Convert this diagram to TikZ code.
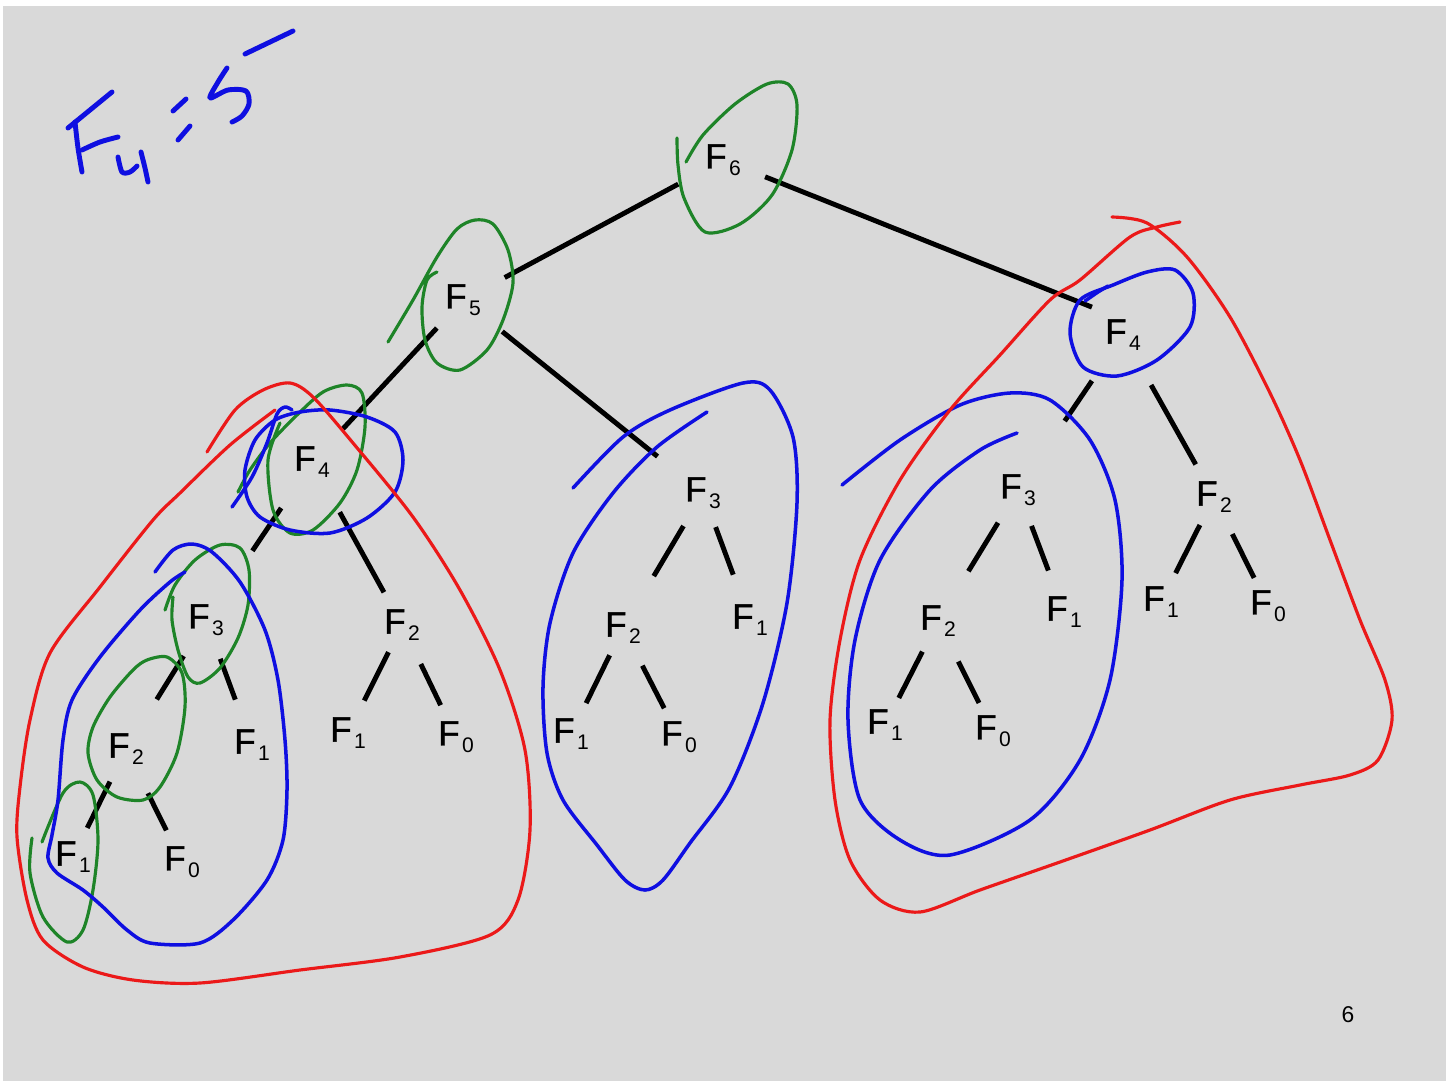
\documentclass[tikz,border=0pt]{standalone}
\usepackage{fontspec}
\setmainfont{Liberation Sans}
\newfontfamily\heavyF[FakeBold=1.2]{Liberation Sans}
\usetikzlibrary{positioning}

\definecolor{bggray}{RGB}{217,217,217}
\definecolor{inkgreen}{RGB}{30,132,40}
\definecolor{inkblue}{RGB}{15,15,225}
\definecolor{inkred}{RGB}{235,25,25}

\newcommand{\fib}[1]{{\heavyF F}\kern1.4pt\raisebox{-4pt}{\fontsize{12}{13}\selectfont #1}}

\begin{document}
\begin{tikzpicture}[x=0.02cm, y=-0.02cm]
\tikzstyle{fnode}=[circle, inner sep=0pt, minimum size=12mm, font=\fontsize{20}{24}\selectfont]
\tikzstyle{connect}=[line width=2.8pt]
\tikzstyle{ink}=[line width=1.8pt, line cap=round, line join=round]
\tikzset{gap/.style 2 args={shorten <=#1cm, shorten >=#2cm}}

% 1. Slide
%%%%%%%%%%
\fill[white] (0,0) rectangle (1453,1086);
\fill[bggray] (3,6) rectangle (1446,1081);
\useasboundingbox (0,0) rectangle (1453,1086);

% 2. Nodes
%%%%%%%%%%
\node[fnode] (F6) at (723,160) {\fib{6}};
\node[fnode] (F5) at (463,300) {\fib{5}};

\node[fnode] (F4a) at (312,462) {\fib{4}};
\node[fnode] (F3a) at (206,620) {\fib{3}};
\node[fnode] (F2a) at (126,749) {\fib{2}};
\node[fnode] (F1a) at (73,857) {\fib{1}};
\node[fnode] (F0a) at (182,862) {\fib{0}};
\node[fnode] (F1b) at (252,745) {\fib{1}};
\node[fnode] (F2b) at (402,625) {\fib{2}};
\node[fnode] (F1c) at (348,733) {\fib{1}};
\node[fnode] (F0c) at (456,737) {\fib{0}};

\node[fnode] (F3b) at (703,493) {\fib{3}};
\node[fnode] (F2c) at (623,628) {\fib{2}};
\node[fnode] (F1d) at (750,620) {\fib{1}};
\node[fnode] (F1e) at (571,734) {\fib{1}};
\node[fnode] (F0e) at (679,737) {\fib{0}};

\node[fnode] (F4b) at (1123,335) {\fib{4}};
\node[fnode] (F3c) at (1018,490) {\fib{3}};
\node[fnode] (F2d) at (1214,497) {\fib{2}};
\node[fnode] (F2e) at (938,621) {\fib{2}};
\node[fnode] (F1f) at (1064,612) {\fib{1}};
\node[fnode] (F1g) at (885,725) {\fib{1}};
\node[fnode] (F0g) at (993,731) {\fib{0}};
\node[fnode] (F1h) at (1161,602) {\fib{1}};
\node[fnode] (F0h) at (1268,606) {\fib{0}};

\node[font=\fontsize{13}{15}\selectfont] (page) at (1348,1015) {6};

% 3. Edges
%%%%%%%%%%
\path (F6)  edge [connect, gap={0.41}{0.34}] (F5)
      (F6)  edge [connect, gap={0.30}{0.25}] (F4b.130)
      (F5)  edge [connect, gap={0.16}{0.30}] (F4a)
      (F5)  edge [connect, gap={0.40}{0.56}] (F3b)
      (F4a) edge [connect, gap={0.50}{1.06}] (F3a)
      (F4a) edge [connect, gap={0.54}{0.14}] (F2b)
      (F3a) edge [connect, gap={0.24}{0.56}] (F2a)
      (F3a) edge [connect, gap={0.22}{0.36}] (F1b)
      (F2a) edge [connect, gap={0.12}{0.04}] (F1a)
      (F2a) edge [connect, gap={0.38}{0.10}] (F0a)
      (F2b) edge [connect, gap={0.00}{0.12}] (F1c)
      (F2b) edge [connect, gap={0.26}{0.10}] (F0c)
      (F3b) edge [connect, gap={0.16}{0.60}] (F2c)
      (F3b) edge [connect, gap={0.12}{0.36}] (F1d)
      (F2c) edge [connect, gap={0.00}{0.08}] (F1e)
      (F2c) edge [connect, gap={0.24}{0.04}] (F0e)
      (F4b) edge [connect, gap={0.50}{1.06}] (F3c)
      (F4b) edge [connect, gap={0.54}{0.14}] (F2d)
      (F3c) edge [connect, gap={0.16}{0.56}] (F2e)
      (F3c) edge [connect, gap={0.16}{0.28}] (F1f)
      (F2e) edge [connect, gap={0.08}{0.00}] (F1g)
      (F2e) edge [connect, gap={0.30}{0.02}] (F0g)
      (F2d) edge [connect, gap={0.02}{0.04}] (F1h)
      (F2d) edge [connect, gap={0.22}{0.02}] (F0h);

% 4. Ink
%%%%%%%%
% F_4 = 5
\begin{scope}[inkblue, line width=2.8pt, line cap=round, line join=round]
\draw plot[smooth] coordinates {(68,128) (90,110) (112,92)};
\draw plot[smooth] coordinates {(75,122) (78,148) (82,172)};
\draw plot[smooth] coordinates {(82,150) (100,142) (118,137)};
\draw plot[smooth] coordinates {(118,157) (122,172) (130,172) (137,166)};
\draw plot[smooth] coordinates {(141,152) (145,168) (148,182)};
\draw (173,111) -- (186,99);
\draw (178,140) -- (190,126);
\draw plot[smooth] coordinates {(227,68) (218,82) (210,98) (228,90) (246,91) (249,104) (242,116) (232,122)};
\draw (245,54) -- (293,31);
\end{scope}

% green
\draw[ink, inkgreen] plot[smooth] coordinates {(677,138) (678,165) (684,198) (705,232) (740,224) (772,195) (792,150) (797,105) (788,84) (767,84) (735,104) (703,135) (686,162)};
\draw[ink, inkgreen] plot[smooth] coordinates {(388,342) (413,300) (437,257) (457,229) (475,220) (493,224) (508,250) (513,283) (503,320) (487,350) (460,370) (437,363) (425,340) (422,307) (427,280) (437,272)};
\draw[ink, inkgreen] plot[smooth] coordinates {(280,423) (268,460) (273,510) (290,533) (313,530) (340,503) (357,470) (365,427) (362,393) (347,385) (323,392) (297,415) (270,443) (250,470) (238,492)};
\draw[ink, inkgreen] plot[smooth] coordinates {(165,610) (175,585) (195,560) (220,545) (240,548) (249,570) (248,605) (238,638) (220,668) (200,683) (188,677) (178,650) (172,620) (173,597)};
\draw[ink, inkgreen] plot[smooth cycle] coordinates {(147,660) (167,657) (182,673) (185,707) (177,753) (160,787) (143,800) (117,797) (97,780) (88,753) (93,727) (110,697) (133,670)};
\draw[ink, inkgreen] plot[smooth] coordinates {(32,838) (30,873) (43,917) (67,942) (83,930) (93,890) (98,840) (93,795) (80,782) (63,793) (42,842)};

% blue
\draw[ink, inkblue, line width=2pt] plot[smooth cycle] coordinates {(255,440) (275,420) (300,412) (330,410) (367,417) (395,432) (403,460) (395,492) (367,518) (330,533) (290,530) (260,517) (247,497) (245,470)};
\draw[ink, inkblue, line width=2pt] plot[smooth] coordinates {(232,507) (252,477) (267,443) (277,414) (285,407) (292,410)};
\draw[ink, inkblue, line width=2pt] plot[smooth] coordinates {(155,572) (173,550) (192,544) (212,552) (240,582) (265,630) (278,680) (285,740) (287,790) (283,840) (267,880) (233,920) (200,943) (150,943) (127,930) (103,907) (83,890) (57,873) (48,858) (52,835) (58,800) (63,740) (72,700) (100,657) (140,610) (170,582) (185,572)};
\draw[ink, inkblue, line width=2pt] plot[smooth] coordinates {(573,488) (623,437) (670,410) (743,383) (770,390) (793,437) (797,503) (787,603) (763,703) (730,787) (690,843) (663,880) (645,890) (625,880) (597,845) (563,800) (547,753) (543,687) (550,623) (573,553) (613,493) (657,447) (707,412)};
\draw[ink, inkblue, line width=2pt] plot[smooth] coordinates {(842,485) (900,440) (960,405) (1010,393) (1050,400) (1090,440) (1115,500) (1122,580) (1110,680) (1080,760) (1030,820) (950,855) (900,840) (860,800) (848,720) (855,640) (880,560) (930,490) (980,450) (1017,433)};
\draw[ink, inkblue, line width=2pt] plot[smooth cycle] coordinates {(1080,300) (1113,285) (1147,272) (1175,270) (1193,293) (1190,327) (1157,360) (1117,376) (1083,367) (1070,333)};
\draw[ink, inkblue, line width=2pt] plot[smooth] coordinates {(1085,301) (1098,292) (1108,286)};

% red
\draw[ink, inkred] plot[smooth] coordinates {(207,452) (235,410) (263,390) (290,383) (313,397) (353,443) (413,517) (460,590) (500,670) (525,750) (530,830) (518,900) (490,935) (400,957) (300,970) (200,983) (133,980) (83,967) (43,940) (27,900) (17,837) (20,787) (30,720) (50,653) (100,587) (153,520) (180,493) (230,445) (275,410)};
\draw[ink, inkred] plot[smooth] coordinates {(1112,217) (1147,223) (1187,257) (1230,317) (1270,393) (1300,460) (1330,540) (1360,620) (1385,680) (1392,720) (1378,760) (1350,775) (1300,785) (1230,800) (1150,830) (1060,862) (980,890) (920,912) (880,900) (850,860) (835,800) (830,720) (840,640) (860,560) (900,480) (950,410) (1000,355) (1050,300) (1080,280) (1130,237) (1157,227) (1180,222)};
\end{tikzpicture}
\end{document}
